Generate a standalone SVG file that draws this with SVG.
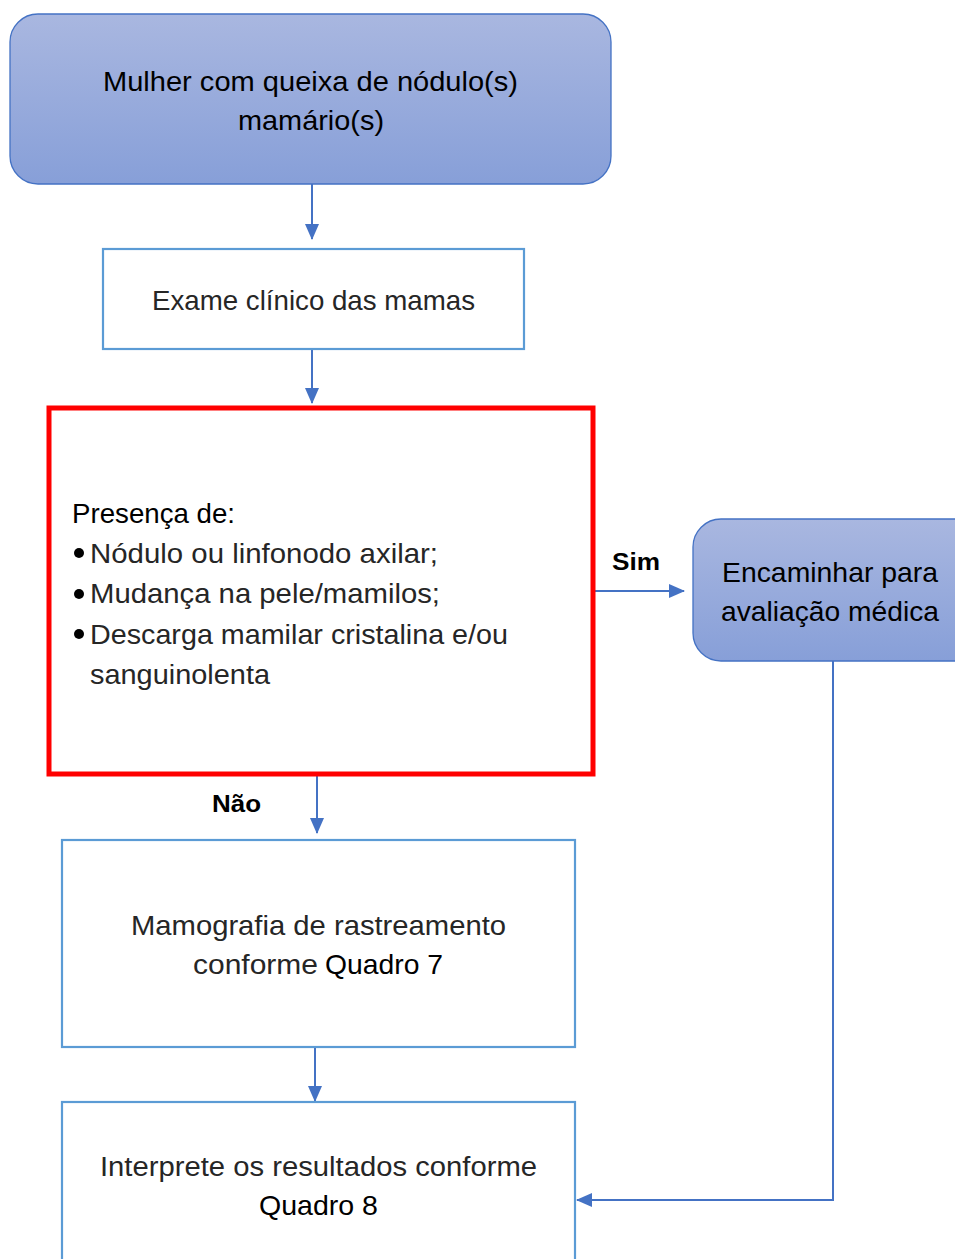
<svg xmlns="http://www.w3.org/2000/svg" width="955" height="1259" viewBox="0 0 955 1259">
<style>
.t{font-family:"Liberation Sans",Arial,sans-serif;font-size:27.5px;fill:#000}
.l{font-family:"Liberation Sans",Arial,sans-serif;font-size:27.5px;fill:#262626}
.b{font-family:"Liberation Sans",Arial,sans-serif;font-size:24px;font-weight:bold;fill:#000}
.blue{fill:url(#g);stroke:#4472c4;stroke-width:1.3}
.box{fill:#fff;stroke:#5b9bd5;stroke-width:2.2}
.c{fill:none;stroke:#4472c4;stroke-width:2}
</style>
<defs>
<linearGradient id="g" x1="0" y1="0" x2="0" y2="1">
<stop offset="0" stop-color="#a9b7e0"/>
<stop offset="1" stop-color="#879fd8"/>
</linearGradient>
<marker id="a2" markerWidth="16" markerHeight="16" refX="15" refY="8" orient="auto" markerUnits="userSpaceOnUse" viewBox="0 0 16 16">
<path d="M0,1 L16,8 L0,15 z" fill="#4472c4"/>
</marker>
</defs>
<rect width="955" height="1259" fill="#fff"/>
<g id="connectors">
<line class="c" x1="312" y1="184" x2="312" y2="239" marker-end="url(#a2)"/>
<line class="c" x1="312" y1="349" x2="312" y2="403" marker-end="url(#a2)"/>
<line class="c" x1="594" y1="591" x2="684" y2="591" marker-end="url(#a2)"/>
<line class="c" x1="317" y1="776" x2="317" y2="833" marker-end="url(#a2)"/>
<line class="c" x1="315" y1="1047" x2="315" y2="1101" marker-end="url(#a2)"/>
<polyline class="c" points="833,661 833,1200 577,1200" marker-end="url(#a2)"/>
<text class="b" x="612" y="570" textLength="48" lengthAdjust="spacingAndGlyphs">Sim</text>
<text class="b" x="212" y="812" textLength="49" lengthAdjust="spacingAndGlyphs">Não</text>
</g>
<g id="start">
<rect class="blue" x="10" y="14" width="601" height="170" rx="28"/>
<text class="t" x="103" y="91" textLength="415" lengthAdjust="spacingAndGlyphs">Mulher com queixa de nódulo(s)</text>
<text class="t" x="238" y="130" textLength="146" lengthAdjust="spacingAndGlyphs">mamário(s)</text>
</g>
<g id="exame">
<rect class="box" x="103" y="249" width="421" height="100"/>
<text class="l" x="152" y="310" textLength="323" lengthAdjust="spacingAndGlyphs">Exame clínico das mamas</text>
</g>
<g id="presenca">
<rect x="49" y="408" width="544" height="366" fill="#fff" stroke="#ff0000" stroke-width="5"/>
<text class="t" x="72" y="523" textLength="163" lengthAdjust="spacingAndGlyphs">Presença de:</text>
<circle cx="79" cy="553" r="5" fill="#000"/>
<circle cx="79" cy="594" r="5" fill="#000"/>
<circle cx="79" cy="634" r="5" fill="#000"/>
<text class="l" x="90" y="563" textLength="348" lengthAdjust="spacingAndGlyphs">Nódulo ou linfonodo axilar;</text>
<text class="l" x="90" y="603" textLength="350" lengthAdjust="spacingAndGlyphs">Mudança na pele/mamilos;</text>
<text class="l" x="90" y="644" textLength="418" lengthAdjust="spacingAndGlyphs">Descarga mamilar cristalina e/ou</text>
<text class="l" x="90" y="684" textLength="180" lengthAdjust="spacingAndGlyphs">sanguinolenta</text>
</g>
<g id="encaminhar">
<rect class="blue" x="693" y="519" width="290" height="142" rx="28"/>
<text class="t" x="722" y="582" textLength="216" lengthAdjust="spacingAndGlyphs">Encaminhar para</text>
<text class="t" x="721" y="621" textLength="218" lengthAdjust="spacingAndGlyphs">avaliação médica</text>
</g>
<g id="mamografia">
<rect class="box" x="62" y="840" width="513" height="207"/>
<text class="l" x="131" y="935" textLength="375" lengthAdjust="spacingAndGlyphs">Mamografia de rastreamento</text>
<text class="l" x="193" y="974" textLength="125" lengthAdjust="spacingAndGlyphs">conforme</text>
<text class="t" x="325" y="974" textLength="118" lengthAdjust="spacingAndGlyphs">Quadro 7</text>
</g>
<g id="interprete">
<rect class="box" x="62" y="1102" width="513" height="180"/>
<text class="l" x="100" y="1176" textLength="437" lengthAdjust="spacingAndGlyphs">Interprete os resultados conforme</text>
<text class="t" x="259" y="1215" textLength="119" lengthAdjust="spacingAndGlyphs">Quadro 8</text>
</g>
</svg>
